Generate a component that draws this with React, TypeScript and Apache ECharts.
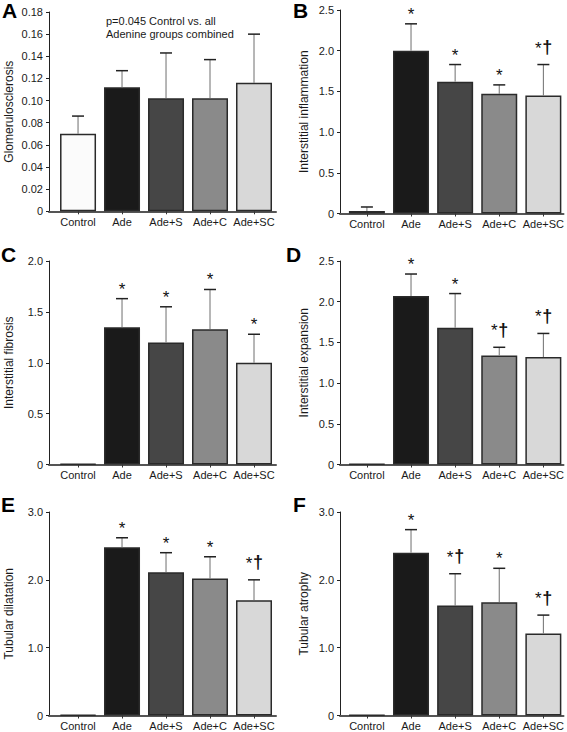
import { useEffect, useRef } from 'react';
import * as echarts from 'echarts';

// ---------- data ----------
const categories = ['Control', 'Ade', 'Ade+S', 'Ade+C', 'Ade+SC'];
const barColors = ['#fbfbfb', '#1a1a1a', '#464646', '#8a8a8a', '#d8d8d8'];

const glomMean = [0.070, 0.112, 0.102, 0.102, 0.116];
const glomSd = [0.016, 0.015, 0.041, 0.035, 0.044];
const glomSig = ['', '', '', '', ''];

const inflMean = [0.03, 2.00, 1.62, 1.47, 1.45];
const inflSd = [0.05, 0.33, 0.21, 0.11, 0.38];
const inflSig = ['', '*', '*', '*', '*†'];

const fibrMean = [0.005, 1.35, 1.20, 1.33, 1.00];
const fibrSd = [0, 0.28, 0.35, 0.39, 0.28];
const fibrSig = ['', '*', '*', '*', '*'];

const expaMean = [0.005, 2.07, 1.68, 1.34, 1.32];
const expaSd = [0, 0.27, 0.42, 0.10, 0.29];
const expaSig = ['', '*', '*', '*†', '*†'];

const dilaMean = [0.01, 2.48, 2.11, 2.02, 1.70];
const dilaSd = [0, 0.14, 0.29, 0.32, 0.30];
const dilaSig = ['', '*', '*', '*', '*†'];

const atroMean = [0.005, 2.40, 1.62, 1.67, 1.21];
const atroSd = [0, 0.34, 0.47, 0.50, 0.27];
const atroSig = ['', '*', '*†', '*', '*†'];

const annotationA = 'p=0.045 Control vs. all\nAdenine groups combined';

// ---------- layout ----------
const FONT = "'Liberation Sans', Arial, Helvetica, sans-serif";

type Panel = {
  letter: string; name: string; mean: number[]; sd: number[]; sig: string[];
  max: number; interval: number; decimals: number;
  left: number; top: number; width: number; height: number;
  xMin: number; xMax: number; nameGap: number; lx: number; ly: number;
};

const LEFT = { left: 49, width: 227, xMin: -0.66, xMax: 4.5, nameGap: 34 };
const RIGHT = { left: 340, width: 224, xMin: -0.61, xMax: 4.457, nameGap: 30 };

const panels: Panel[] = [
  { letter: 'A', name: 'Glomerulosclerosis', mean: glomMean, sd: glomSd, sig: glomSig, max: 0.18, interval: 0.02, decimals: 2, ...LEFT, top: 12, height: 199.3, lx: 2, ly: 0 },
  { letter: 'B', name: 'Interstitial inflammation', mean: inflMean, sd: inflSd, sig: inflSig, max: 2.5, interval: 0.5, decimals: 1, ...RIGHT, top: 10, height: 203.5, lx: 293, ly: 0 },
  { letter: 'C', name: 'Interstitial fibrosis', mean: fibrMean, sd: fibrSd, sig: fibrSig, max: 2.0, interval: 0.5, decimals: 1, ...LEFT, top: 261, height: 203.5, lx: 1, ly: 244 },
  { letter: 'D', name: 'Interstitial expansion', mean: expaMean, sd: expaSd, sig: expaSig, max: 2.5, interval: 0.5, decimals: 1, ...RIGHT, top: 261, height: 203.5, lx: 286, ly: 244 },
  { letter: 'E', name: 'Tubular dilatation', mean: dilaMean, sd: dilaSd, sig: dilaSig, max: 3.0, interval: 1.0, decimals: 1, ...LEFT, top: 512, height: 203.5, lx: 1, ly: 494 },
  { letter: 'F', name: 'Tubular atrophy', mean: atroMean, sd: atroSd, sig: atroSig, max: 3.0, interval: 1.0, decimals: 1, ...RIGHT, top: 512, height: 203.5, lx: 293, ly: 494 },
];

const catIdx = categories.map((_, i) => i);

const txt = (t: string, x: number, y: number, font: string) => ({
  type: 'text',
  x,
  y,
  style: {
    text: t,
    fill: '#111',
    font,
    textAlign: 'center',
    textVerticalAlign: 'middle',
  },
});

const makeRender = (sig: string[]) => (params: any, api: any) => {
  const x = api.value(0);
  const m = api.value(1);
  const s = api.value(2);
  const p0 = api.coord([x, m]);
  const p1 = api.coord([x, m + s]);
  const children: any[] = [];
  if (s > 0) {
    children.push({ type: 'line', shape: { x1: p0[0], y1: p0[1], x2: p1[0], y2: p1[1] }, style: { stroke: '#6e6e6e', lineWidth: 1 } });
    children.push({ type: 'line', shape: { x1: p1[0] - 6, y1: p1[1], x2: p1[0] + 6, y2: p1[1] }, style: { stroke: '#222', lineWidth: 1.5 } });
  }
  const mk = sig[params.dataIndex];
  if (mk === '*') {
    children.push(txt('*', p1[0], p1[1] - 9.5, `17px ${FONT}`));
  } else if (mk === '*†') {
    children.push(txt('*', p1[0] - 5, p1[1] - 16.5, `17px ${FONT}`));
    children.push(txt('†', p1[0] + 4, p1[1] - 17.5, `bold 18px ${FONT}`));
  }
  return { type: 'group', children };
};

export default function App() {
  const ref = useRef<HTMLDivElement>(null);
  useEffect(() => {
    if (!ref.current) return;
    const chart = echarts.init(ref.current, undefined, { renderer: 'svg' });
    const series: any[] = [];
    panels.forEach((p, i) => {
      series.push({
        type: 'bar',
        xAxisIndex: i,
        yAxisIndex: i,
        barWidth: 36,
        z: 2,
        data: p.mean.map((v, k) => ({
          value: [catIdx[k], v],
          itemStyle: { color: barColors[k], borderColor: '#2a2a2a', borderWidth: 1.5 },
        })),
      });
      series.push({
        type: 'custom',
        xAxisIndex: i,
        yAxisIndex: i,
        z: 3,
        encode: { x: 0, y: 1 },
        renderItem: makeRender(p.sig),
        data: p.mean.map((v, k) => [catIdx[k], v, p.sd[k]]),
      });
    });
    const graphic: any[] = panels.map((p) => ({
      type: 'text',
      x: p.lx,
      y: p.ly,
      style: { text: p.letter, font: `bold 21px ${FONT}`, fill: '#000', textVerticalAlign: 'top' },
    }));
    graphic.push({
      type: 'text',
      x: 106,
      y: 14,
      style: { text: annotationA, font: `11px ${FONT}`, fill: '#1a1a1a', lineHeight: 13, textVerticalAlign: 'top' },
    });
    chart.setOption({
      animation: false,
      backgroundColor: '#ffffff',
      textStyle: { fontFamily: FONT },
      grid: panels.map((p) => ({ left: p.left, top: p.top, width: p.width, height: p.height })),
      xAxis: panels.map((p, i) => ({
        type: 'value',
        gridIndex: i,
        min: p.xMin,
        max: p.xMax,
        splitLine: { show: false },
        axisLine: { show: true, onZero: false, lineStyle: { color: '#555', width: 2 } },
        axisTick: { show: true, customValues: catIdx, length: 3, lineStyle: { color: '#333' } },
        axisLabel: {
          customValues: catIdx,
          formatter: (v: number) => categories[Math.round(v)] ?? '',
          color: '#1a1a1a',
          fontSize: 11,
          margin: 5,
          fontFamily: FONT,
        },
      })),
      yAxis: panels.map((p, i) => ({
        type: 'value',
        gridIndex: i,
        min: 0,
        max: p.max,
        interval: p.interval,
        name: p.name,
        nameLocation: 'middle',
        nameGap: p.nameGap,
        nameTextStyle: { fontSize: 12, color: '#1a1a1a', fontFamily: FONT },
        splitLine: { show: false },
        axisLine: { show: true, onZero: false, lineStyle: { color: '#222', width: 1 } },
        axisTick: { show: true, length: 3, lineStyle: { color: '#222' } },
        axisLabel: {
          fontSize: 11,
          color: '#1a1a1a',
          margin: 6,
          fontFamily: FONT,
          formatter: (v: number) => (v === 0 ? '0' : v.toFixed(p.decimals)),
        },
      })),
      series,
      graphic,
    });
    return () => chart.dispose();
  }, []);
  return (
    <div
      ref={ref}
      style={{ position: 'fixed', left: 0, top: 0, width: 567, height: 732, background: '#fff' }}
    />
  );
}
